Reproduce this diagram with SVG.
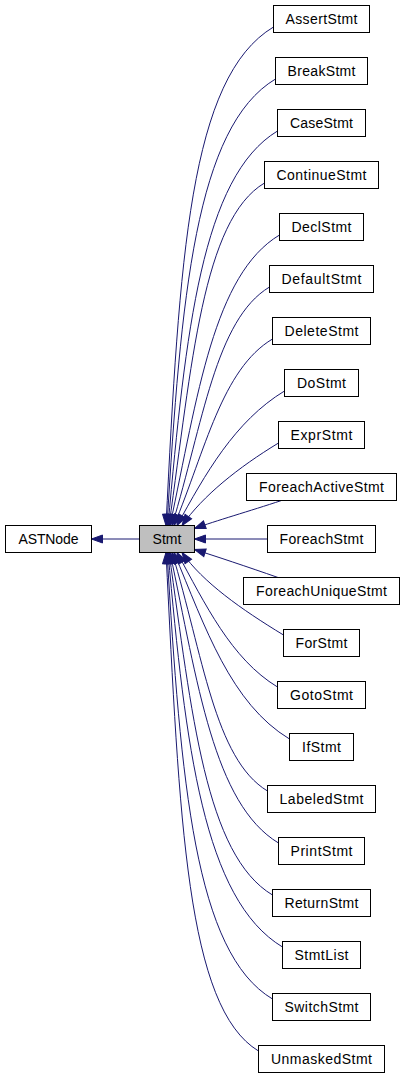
<svg xmlns="http://www.w3.org/2000/svg" width="405" height="1077" viewBox="0 0 405 1077">
<defs>
<style>
.n rect{fill:#ffffff;stroke:#000000;stroke-width:1}
.n text{font-family:"Liberation Sans",Arial,sans-serif;font-size:14px;fill:#000000;text-anchor:middle}
#Stmt rect{fill:#bfbfbf}
.e path{fill:none;stroke:#191970;stroke-width:1;marker-end:url(#ah)}
</style>
<marker id="ah" viewBox="-1 -1 13 10" refX="11" refY="4" markerWidth="13" markerHeight="10" markerUnits="userSpaceOnUse" orient="auto">
<path d="M0,0 L11,4 L0,8 Z" fill="#191970" stroke="#191970" stroke-width="1"/>
</marker>
</defs>
<rect width="405" height="1077" fill="#ffffff"/>
<g id="connectors" class="e">
<path d="M139.5,539 L91.5,539"/>
<path d="M273.5,27 C189.6,77.3 179.5,256.3 166,525.5"/>
<path d="M275.5,79 C195.8,126.8 180.9,294.4 167,525.5"/>
<path d="M277.5,131 C202.1,176.5 185.7,330.2 168,525.5"/>
<path d="M264.5,183 C202.7,219.8 191.9,363.7 169,525.5"/>
<path d="M279.5,235 C213.8,274.4 197.8,394.8 170,525.5"/>
<path d="M269.5,287 C215.4,319.5 203,423.5 172,525.5"/>
<path d="M272.5,339 C222,369 205.4,450 174,525.5"/>
<path d="M284.5,391 C234.8,421.1 205.2,474.1 177,525.5"/>
<path d="M278.5,443 C238.3,467.4 202.8,495.8 182,525.5"/>
<path d="M281.5,500.5 C250,511 215,521 194.5,528.5"/>
<path d="M267.5,539 L194.5,539"/>
<path d="M278,577.5 C248,567 215,556 194.5,549.5"/>
<path d="M283.5,635 C241.2,609.3 202.8,582.2 182,552.5"/>
<path d="M277.5,687 C231,658.8 205.2,603.9 177,552.5"/>
<path d="M289.5,739 C230.8,703.5 205.4,628 174,552.5"/>
<path d="M267.5,791 C214.5,759.2 203,654.5 172,552.5"/>
<path d="M278.5,843 C213.6,803.8 197.8,683.2 170,552.5"/>
<path d="M272.5,895 C205.6,855.1 191.9,714.3 169,552.5"/>
<path d="M282.5,947 C203.6,899.4 185.7,747.8 168,552.5"/>
<path d="M272.5,999 C194.8,952.7 180.9,783.6 167,552.5"/>
<path d="M258.5,1051 C186.5,1007.5 179.5,821.7 166,552.5"/>
</g>
<g id="ASTNode" class="n"><rect x="5.5" y="525.5" width="86" height="27"/><text x="48.5" y="544" textLength="60" lengthAdjust="spacing">ASTNode</text></g>
<g id="Stmt" class="n"><rect x="139.5" y="525.5" width="55" height="27"/><text x="167" y="544" textLength="29" lengthAdjust="spacing">Stmt</text></g>
<g id="AssertStmt" class="n"><rect x="273.5" y="5.5" width="96" height="27"/><text x="321.5" y="24" textLength="72" lengthAdjust="spacing">AssertStmt</text></g>
<g id="BreakStmt" class="n"><rect x="275.5" y="57.5" width="92" height="27"/><text x="321.5" y="76" textLength="68" lengthAdjust="spacing">BreakStmt</text></g>
<g id="CaseStmt" class="n"><rect x="277.5" y="109.5" width="88" height="27"/><text x="321.5" y="128" textLength="63" lengthAdjust="spacing">CaseStmt</text></g>
<g id="ContinueStmt" class="n"><rect x="264.5" y="161.5" width="114" height="27"/><text x="321.5" y="180" textLength="90" lengthAdjust="spacing">ContinueStmt</text></g>
<g id="DeclStmt" class="n"><rect x="279.5" y="213.5" width="84" height="27"/><text x="321.5" y="232" textLength="60" lengthAdjust="spacing">DeclStmt</text></g>
<g id="DefaultStmt" class="n"><rect x="269.5" y="265.5" width="104" height="27"/><text x="321.5" y="284" textLength="80" lengthAdjust="spacing">DefaultStmt</text></g>
<g id="DeleteStmt" class="n"><rect x="272.5" y="317.5" width="98" height="27"/><text x="321.5" y="336" textLength="74" lengthAdjust="spacing">DeleteStmt</text></g>
<g id="DoStmt" class="n"><rect x="284.5" y="369.5" width="74" height="27"/><text x="321.5" y="388" textLength="49" lengthAdjust="spacing">DoStmt</text></g>
<g id="ExprStmt" class="n"><rect x="278.5" y="421.5" width="86" height="27"/><text x="321.5" y="440" textLength="62" lengthAdjust="spacing">ExprStmt</text></g>
<g id="ForeachActiveStmt" class="n"><rect x="246.5" y="473.5" width="150" height="27"/><text x="321.5" y="492" textLength="125" lengthAdjust="spacing">ForeachActiveStmt</text></g>
<g id="ForeachStmt" class="n"><rect x="267.5" y="525.5" width="108" height="27"/><text x="321.5" y="544" textLength="84" lengthAdjust="spacing">ForeachStmt</text></g>
<g id="ForeachUniqueStmt" class="n"><rect x="243.5" y="577.5" width="156" height="27"/><text x="321.5" y="596" textLength="131" lengthAdjust="spacing">ForeachUniqueStmt</text></g>
<g id="ForStmt" class="n"><rect x="283.5" y="629.5" width="76" height="27"/><text x="321.5" y="648" textLength="52" lengthAdjust="spacing">ForStmt</text></g>
<g id="GotoStmt" class="n"><rect x="277.5" y="681.5" width="88" height="27"/><text x="321.5" y="700" textLength="63" lengthAdjust="spacing">GotoStmt</text></g>
<g id="IfStmt" class="n"><rect x="289.5" y="733.5" width="64" height="27"/><text x="321.5" y="752" textLength="39" lengthAdjust="spacing">IfStmt</text></g>
<g id="LabeledStmt" class="n"><rect x="267.5" y="785.5" width="108" height="27"/><text x="321.5" y="804" textLength="84" lengthAdjust="spacing">LabeledStmt</text></g>
<g id="PrintStmt" class="n"><rect x="278.5" y="837.5" width="86" height="27"/><text x="321.5" y="856" textLength="62" lengthAdjust="spacing">PrintStmt</text></g>
<g id="ReturnStmt" class="n"><rect x="272.5" y="889.5" width="98" height="27"/><text x="321.5" y="908" textLength="74" lengthAdjust="spacing">ReturnStmt</text></g>
<g id="StmtList" class="n"><rect x="282.5" y="941.5" width="78" height="27"/><text x="321.5" y="960" textLength="54" lengthAdjust="spacing">StmtList</text></g>
<g id="SwitchStmt" class="n"><rect x="272.5" y="993.5" width="98" height="27"/><text x="321.5" y="1012" textLength="74" lengthAdjust="spacing">SwitchStmt</text></g>
<g id="UnmaskedStmt" class="n"><rect x="258.5" y="1045.5" width="126" height="27"/><text x="321.5" y="1064" textLength="101" lengthAdjust="spacing">UnmaskedStmt</text></g>
</svg>
